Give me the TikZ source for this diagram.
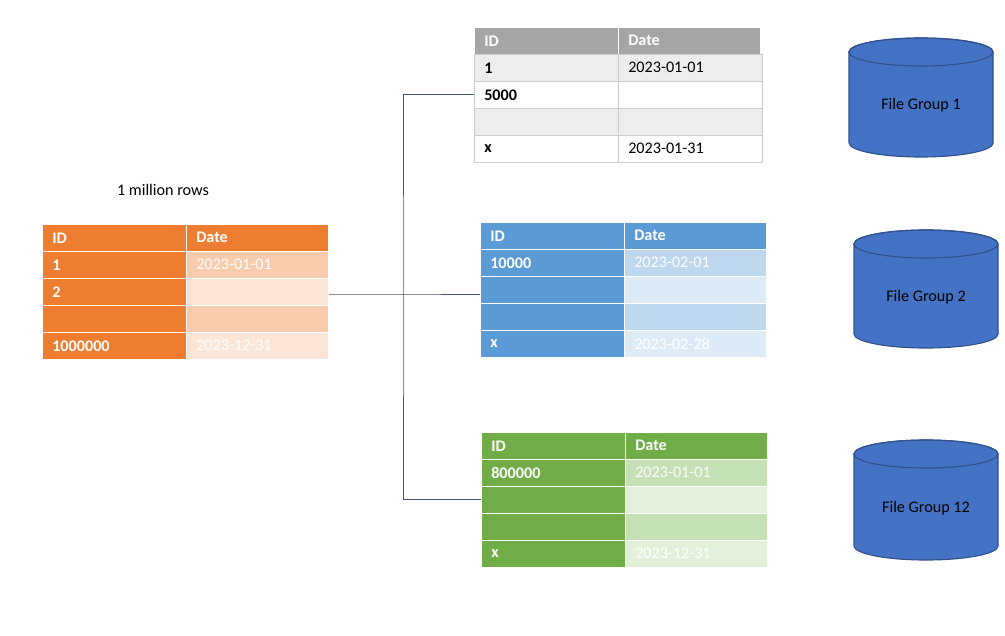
\documentclass[tikz,border=0pt]{standalone}
\usepackage{fontspec}
\setmainfont{Carlito}
\usetikzlibrary{positioning}
\definecolor{ohead}{HTML}{ED7D31}\definecolor{oda}{HTML}{F8CBAD}\definecolor{odb}{HTML}{FBE5D6}
\definecolor{ghead}{HTML}{A5A5A5}\definecolor{gda}{HTML}{EDEDED}
\definecolor{bhead}{HTML}{5B9BD5}\definecolor{bda}{HTML}{BDD7EE}\definecolor{bdb}{HTML}{DDEBF7}
\definecolor{vhead}{HTML}{70AD47}\definecolor{vda}{HTML}{C5E0B4}\definecolor{vdb}{HTML}{E2F0D9}
\definecolor{fgfill}{HTML}{4472C4}\definecolor{fgline}{HTML}{2F528F}
\definecolor{linkcol}{HTML}{44546A}

\tikzset{
  cell/.style={anchor=north west, minimum height=0.675cm, inner xsep=0.25cm, inner ysep=0pt,
    align=left, draw=white, font=\fontsize{11.5}{13}\selectfont},
  idcell/.style={cell, text width=3.1cm},
  datecell/.style={cell, text width=3.05cm},
  headtext/.style={text=white, font=\fontsize{11.5}{13}\selectfont\bfseries},
  link/.style={linkcol, line width=0.6pt},
}

% #1 name, #2 x, #3 y, #4 header fill, #5 id cell style, #6 rows
\newcommand\datatable[6]{%
  \node[idcell,headtext,fill=#4] (#1-0-a) at (#2,#3) {ID};
  \node[datecell,headtext,fill=#4] (#1-0-b) at (#2+144,#3) {Date};
  \foreach \id/\dt/\fa/\fb [count=\k] in {#6} {
    \node[idcell,#5,fill=\fa] (#1-\k-a) at (#2,#3+\k*27) {\id};
    \node[datecell,#5,fill=\fb,font=\fontsize{11.5}{13}\selectfont] (#1-\k-b) at (#2+144,#3+\k*27) {\dt};
  }}

% #1 name, #2 centre x, #3 top y, #4 bottom y, #5 label
\newcommand\filegroup[5]{%
  \filldraw[fgfill, draw=fgline, line width=0.8pt]
    (#2-72,#3+14) -- (#2-72,#4-14)
    arc[start angle=180, end angle=360, x radius=1.8cm, y radius=0.35cm]
    -- (#2+72,#3+14)
    arc[start angle=0, end angle=180, x radius=1.8cm, y radius=0.35cm] -- cycle;
  \draw[fgline, line width=0.8pt] (#2,#3+14) ellipse[x radius=1.8cm, y radius=0.35cm];
  \node[font=\fontsize{11.5}{13}\selectfont] (#1) at (#2,{(#3+#4)/2+8}) {#5};
}

\begin{document}
\begin{tikzpicture}[x=0.025cm, y=-0.025cm]
  \useasboundingbox (0,0) rectangle (1005,636);

  % source table
  \node[font=\fontsize{11.5}{13}\selectfont] (rows) at (163,190) {1 million rows};
  \datatable{o}{42}{224}{ohead}{headtext}{
    1/2023-01-01/ohead/oda, 2//ohead/odb, //ohead/oda, 1000000/2023-12-31/ohead/odb}

  % partitions
  \datatable{g}{474}{27}{ghead}{idcell}{
    \textbf{1}/2023-01-01/gda/gda, \textbf{5000}//white/white, //gda/gda, \textbf{x}/2023-01-31/white/white}
  \foreach \k in {1,...,4} {\draw[gray!40] (g-\k-a.north west) rectangle (g-\k-b.south east);
    \draw[gray!40] (g-\k-a.north east) -- (g-\k-a.south east);}
  \datatable{b}{480}{222}{bhead}{headtext}{
    10000/2023-02-01/bhead/bda, //bhead/bdb, //bhead/bda, x/2023-02-28/bhead/bdb}
  \datatable{v}{481}{432}{vhead}{headtext}{
    800000/2023-01-01/vhead/vda, //vhead/vdb, //vhead/vda, x/2023-12-31/vhead/vdb}

  % connectors
  \coordinate (split) at (403,294);
  \draw[link] (o-2-b.east |- split) -- (split) -- (b-2-a.west |- split);
  \draw[link] (g-2-a.west) -| (split) |- (v-2-a.west);

  % file groups
  \filegroup{fg1}{921}{38}{157}{File Group 1}
  \filegroup{fg2}{926}{230}{348}{File Group 2}
  \filegroup{fg12}{926}{440}{560}{File Group 12}
\end{tikzpicture}
\end{document}
